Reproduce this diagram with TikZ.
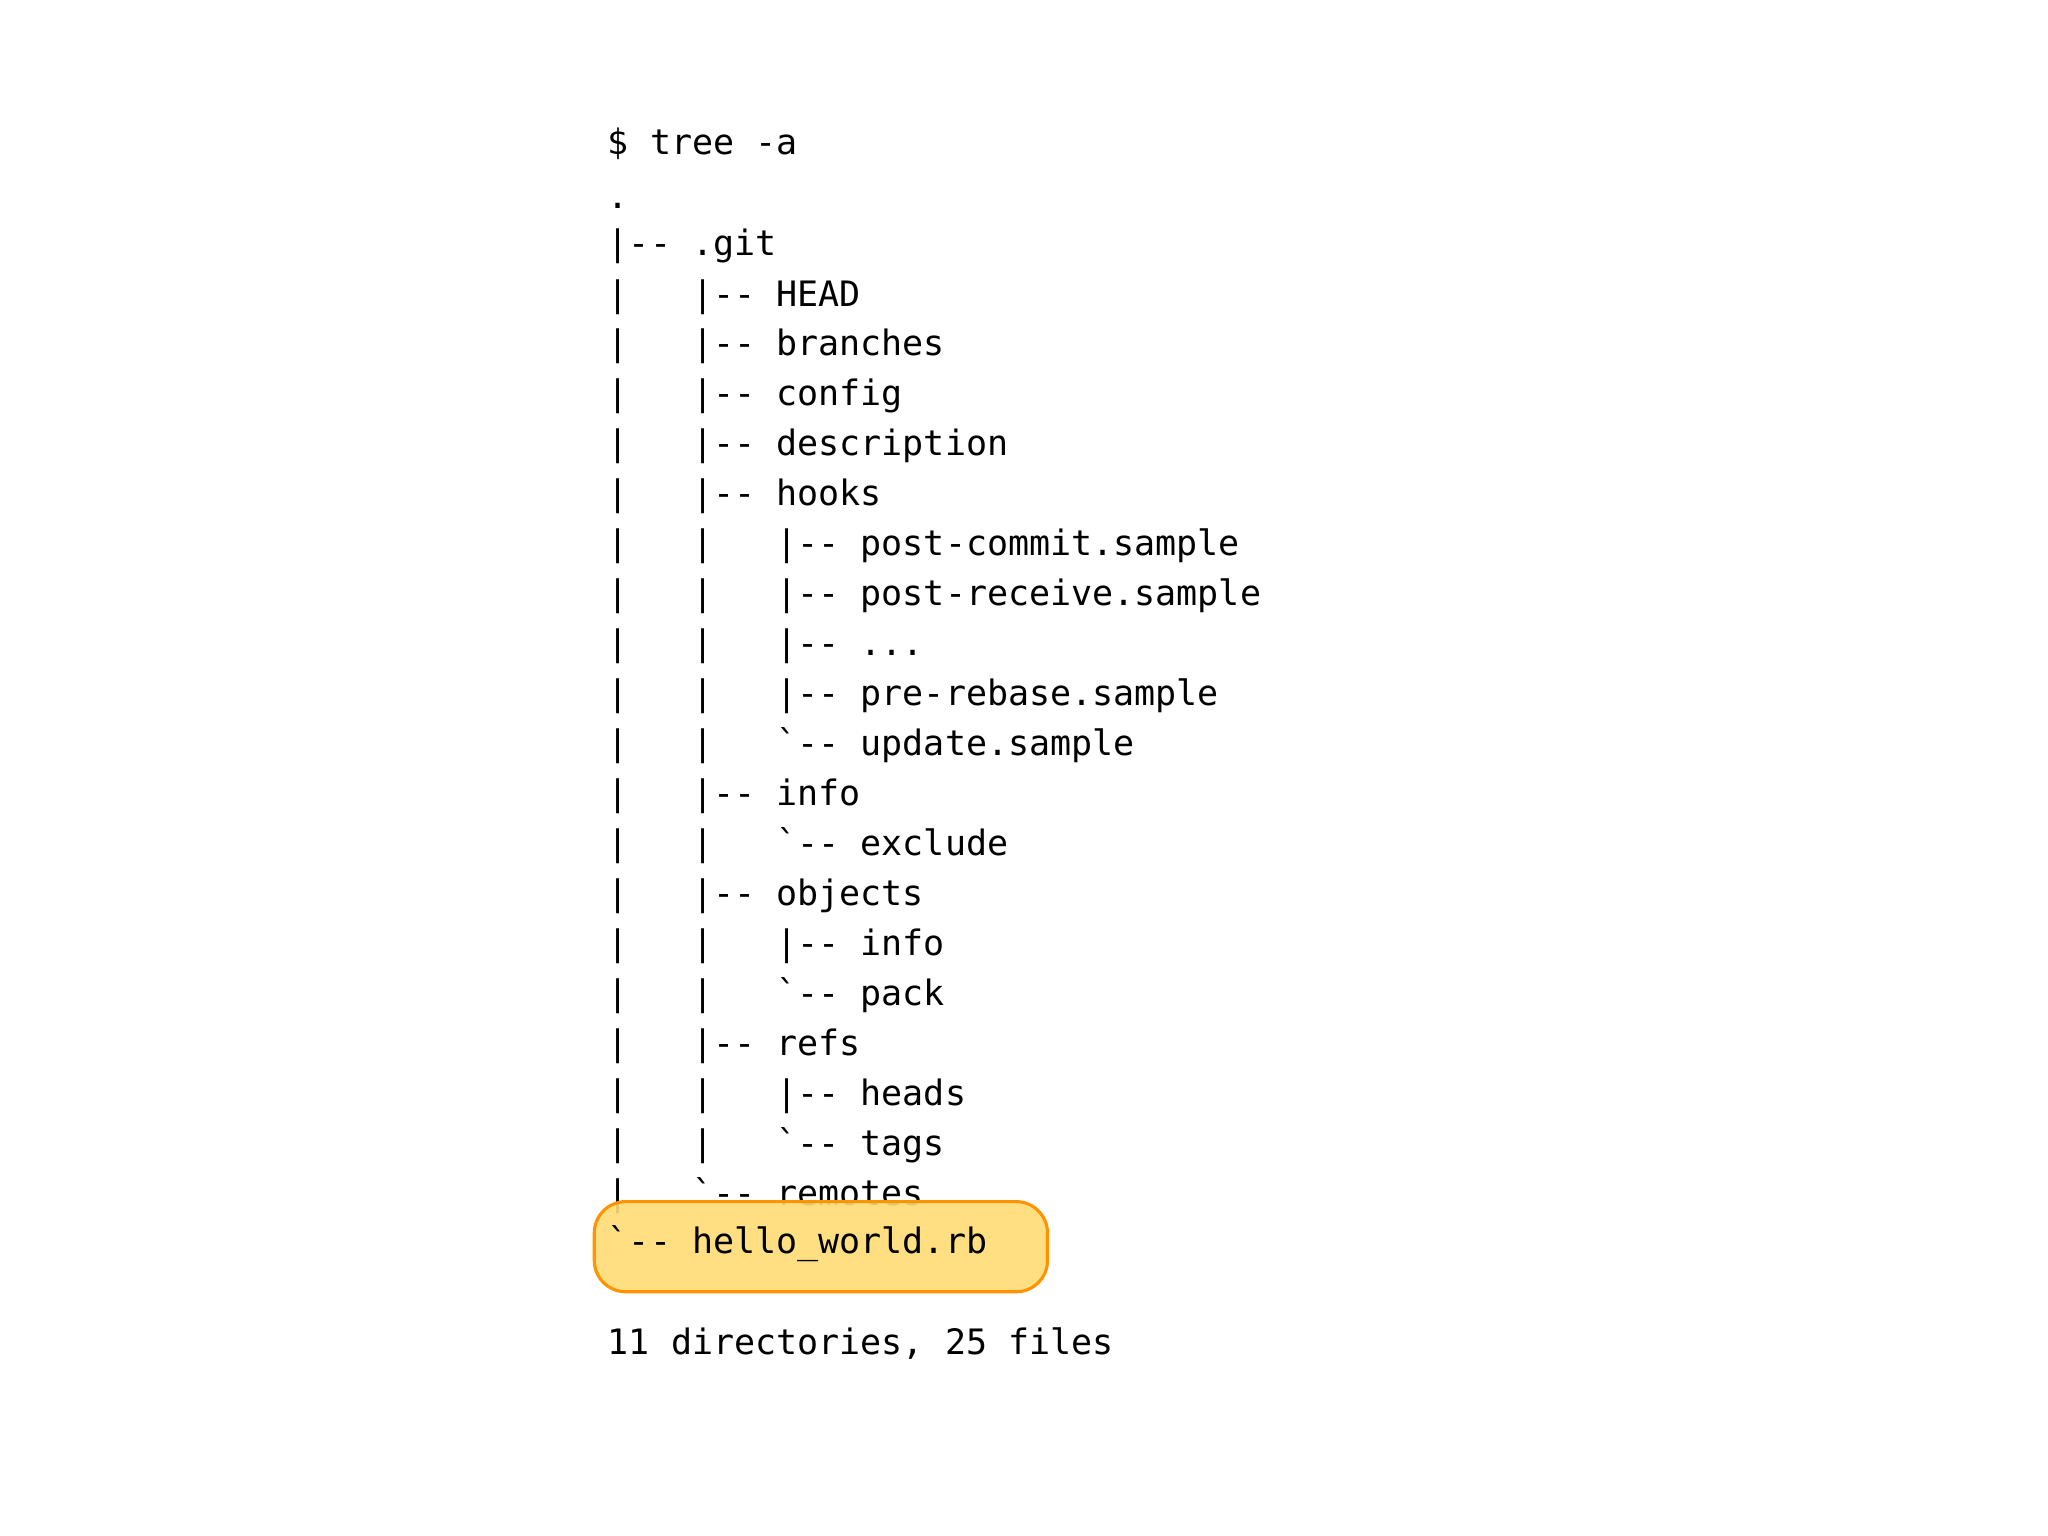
\documentclass[tikz,border=0pt]{standalone}
\usepackage{fontspec}
\setmonofont{DejaVu Sans Mono}
\newcommand{\bq}{\symbol{96}}
\newcommand{\ind}{|\ \ \ }
\begin{document}
\begin{tikzpicture}[x=0.5pt,y=-0.5pt,
  ln/.style={anchor=base west,inner sep=0pt,font=\fontsize{13.4pt}{16pt}\ttfamily},
  hl/.style={rounded corners=12pt,fill=orange!50!yellow!55,fill opacity=0.9,draw=orange!85!yellow,line width=1.2pt}]
\useasboundingbox (0,0) rectangle (1568,1176);
\node[ln] (l0) at (465,118) {\$ tree -a};
\node[ln] (l1) at (465,160) {.};
\node[ln] (t0) at (465,196.0) {|-- .git};
\node[ln] (t1) at (465,234.3) {\ind|-- HEAD};
\node[ln] (t2) at (465,272.5) {\ind|-- branches};
\node[ln] (t3) at (465,310.8) {\ind|-- config};
\node[ln] (t4) at (465,349.1) {\ind|-- description};
\node[ln] (t5) at (465,387.4) {\ind|-- hooks};
\node[ln] (t6) at (465,425.6) {\ind\ind|-- post-commit.sample};
\node[ln] (t7) at (465,463.9) {\ind\ind|-- post-receive.sample};
\node[ln] (t8) at (465,502.2) {\ind\ind|-- {.}{.}{.}};
\node[ln] (t9) at (465,540.4) {\ind\ind|-- pre-rebase.sample};
\node[ln] (t10) at (465,578.7) {\ind\ind\bq-- update.sample};
\node[ln] (t11) at (465,617.0) {\ind|-- info};
\node[ln] (t12) at (465,655.2) {\ind\ind\bq-- exclude};
\node[ln] (t13) at (465,693.5) {\ind|-- objects};
\node[ln] (t14) at (465,731.8) {\ind\ind|-- info};
\node[ln] (t15) at (465,770.1) {\ind\ind\bq-- pack};
\node[ln] (t16) at (465,808.3) {\ind|-- refs};
\node[ln] (t17) at (465,846.6) {\ind\ind|-- heads};
\node[ln] (t18) at (465,884.9) {\ind\ind\bq-- tags};
\node[ln] (t19) at (465,923.1) {\ind\bq-- remotes};
\draw[hl] (455,920) rectangle (802,989);
\node[ln] (hw) at (465,960) {\bq-- hello\_world.rb};
\node[ln] (sum) at (465,1037) {11 directories, 25 files};
\end{tikzpicture}
\end{document}
